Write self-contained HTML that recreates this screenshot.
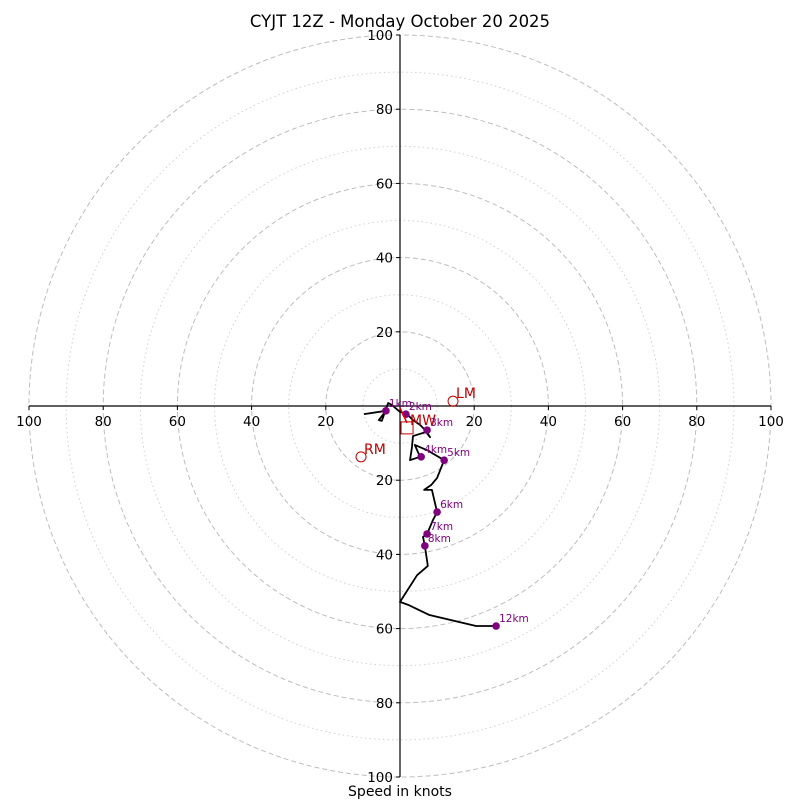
<!DOCTYPE html>
<html><head><meta charset="utf-8"><style>
body{margin:0;background:#fff;font-family:"Liberation Sans","DejaVu Sans",sans-serif}
svg text{font-family:"DejaVu Sans","Liberation Sans",sans-serif}
</style></head><body>
<svg id="c" width="800" height="800">
<text x="400" y="27" text-anchor="middle" font-size="16.5">CYJT 12Z - Monday October 20 2025</text>
<text x="400" y="796" text-anchor="middle" font-size="14">Speed in knots</text>
</svg>
<script>
const ringValues=[10,20,30,40,50,60,70,80,90,100];
const tickLabels=[20,40,60,80,100];
const hodoU=[-9.7,-3.8,-5.7,-4.9,-3.2,-2.2,0,1.9,3.5,5.4,7.0,8.1,7.0,3.5,3.2,2.7,5.4,4.0,7.3,11.9,10.0,8.4,6.5,8.6,10.0,8.9,7.3,6.2,6.7,7.5,4.6,0,2.2,7.8,20.5,25.9];
const hodoV=[-2.2,-1.3,-3.8,-4.0,0.8,0.3,-1.6,-2.2,-3.8,-5.1,-6.7,-8.4,-7.0,-8.1,-11.3,-14.6,-13.7,-10.5,-11.9,-14.6,-19.4,-21.3,-22.6,-22.6,-28.6,-30.7,-34.5,-35.3,-37.7,-43.1,-45.6,-52.8,-53.6,-56.3,-59.3,-59.3];
const markerLabels=["1km","2km","3km","4km","5km","6km","7km","8km","12km"];
const markerU=[-3.8,1.6,7.3,5.7,11.9,10.0,7.3,6.7,25.9];
const markerV=[-1.3,-2.2,-6.5,-13.7,-14.6,-28.6,-34.5,-37.7,-59.3];
const motionLabels=["LM","RM","MW"];
const motionU=[14.3,-10.5,1.9];
const motionV=[1.3,-13.7,-5.9];
const cx=400,cy=406,k=3.71;
const X=u=>cx+u*k, Y=v=>cy-v*k;
const svg=document.getElementById('c');
const NS='http://www.w3.org/2000/svg';
function mk(t,a,p){const e=document.createElementNS(NS,t);for(const n in a)e.setAttribute(n,a[n]);(p||svg).appendChild(e);return e;}
ringValues.forEach(r=>{
 const e=mk('circle',{cx:cx,cy:cy,r:r*k,fill:'none',stroke:r%20?'#d0d0d0':'#bdbdbd','stroke-width':1,'stroke-dasharray':r%20?'1.5,3':'5,3'});
 
 
});
let ax=mk('line',{x1:X(-100),y1:cy,x2:X(100),y2:cy,stroke:'#000','stroke-width':1.2});


let ay=mk('line',{x1:cx,y1:Y(100),x2:cx,y2:Y(-100),stroke:'#000','stroke-width':1.2});


tickLabels.forEach(t=>{[-1,1].forEach(s=>{
 mk('line',{x1:X(s*t),y1:cy,x2:X(s*t),y2:cy+4,stroke:'#000'});
 const a=mk('text',{x:X(s*t),y:cy+20,'text-anchor':'middle','font-size':13.5});a.textContent=t;
 
 
 mk('line',{x1:cx-4,y1:Y(s*t),x2:cx,y2:Y(s*t),stroke:'#000'});
 const b=mk('text',{x:cx-7,y:Y(s*t)+5,'text-anchor':'end','font-size':13.5});b.textContent=t;
 
 
});});
const pl=mk('polyline',{points:hodoU.map((u,i)=>X(u)+','+Y(hodoV[i])).join(' '),fill:'none',stroke:'#000','stroke-width':1.8,'stroke-linejoin':'round'});


markerLabels.forEach((l,i)=>{
 const c=mk('circle',{cx:X(markerU[i]),cy:Y(markerV[i]),r:3.8,fill:'#800080'});
 
 
 const t=mk('text',{x:X(markerU[i])+3,y:Y(markerV[i])-4,'font-size':10.5,fill:'#800080'});t.textContent=l;
 
 
});
const ar=mk('line',{x1:cx,y1:cy+2,x2:X(motionU[2]),y2:Y(motionV[2])-5,stroke:'#e00000','stroke-width':1.5});


motionLabels.forEach((l,i)=>{
 let e;
 if(l==='MW') e=mk('rect',{x:X(motionU[i])-6,y:Y(motionV[i])-6,width:12,height:12,fill:'none',stroke:'#c00000','stroke-width':1});
 else e=mk('circle',{cx:X(motionU[i]),cy:Y(motionV[i]),r:5,fill:'none',stroke:'#c00000','stroke-width':1});
 
 
 const t=mk('text',{x:X(motionU[i])+3,y:Y(motionV[i])-3,'font-size':14,fill:'#c00000'});t.textContent=l;
 
 
});
</script>
</body></html>
